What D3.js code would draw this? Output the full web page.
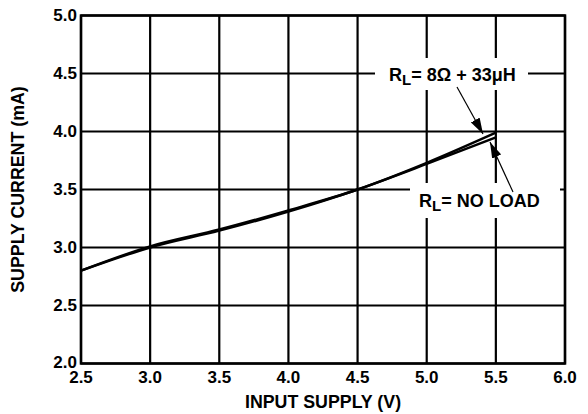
<!DOCTYPE html>
<html>
<head>
<meta charset="utf-8">
<script src="https://cdn.jsdelivr.net/npm/d3@7/dist/d3.min.js"></script>
<style>
  html, body { margin: 0; padding: 0; background: #fff; }
  svg { display: block; }
  text { font-family: "Liberation Sans", Arial, Helvetica, sans-serif; font-weight: bold; fill: #000; }
</style>
</head>
<body>
<svg id="chart" width="588" height="414"></svg>
<script>
// ---- data ----
const supplyV = [2.5, 3.0, 3.5, 4.0, 4.5, 5.0, 5.5];
const currentLoad = [2.80, 3.01, 3.155, 3.32, 3.50, 3.73, 3.99];
const currentNoLoad = [2.80, 3.00, 3.145, 3.31, 3.50, 3.72, 3.95];
const xTicks = [2.5, 3.0, 3.5, 4.0, 4.5, 5.0, 5.5, 6.0];
const yTicks = [2.0, 2.5, 3.0, 3.5, 4.0, 4.5, 5.0];
const xTitle = "INPUT SUPPLY (V)";
const yTitle = "SUPPLY CURRENT (mA)";

const svg = d3.select("#chart");
const L = 81, R = 565, T = 15.5, B = 363.5;
const x = d3.scaleLinear().domain([2.5, 6.0]).range([L, R]);
const y = d3.scaleLinear().domain([2.0, 5.0]).range([B, T]);

// grid
const g = svg.append("g");
g.selectAll(".vg").data(xTicks).join("line")
  .attr("x1", d => x(d)).attr("x2", d => x(d))
  .attr("y1", T).attr("y2", B)
  .attr("stroke", "#000").attr("stroke-width", 2.2);
g.selectAll(".hg").data(yTicks).join("line")
  .attr("y1", d => y(d)).attr("y2", d => y(d))
  .attr("x1", L).attr("x2", R)
  .attr("stroke", "#000").attr("stroke-width", 2.2);

// white boxes for annotations (knock out grid)
svg.append("rect").attr("x", 375).attr("y", 58).attr("width", 153).attr("height", 32).attr("fill", "#fff");
svg.append("rect").attr("x", 410).attr("y", 183).attr("width", 150).attr("height", 35).attr("fill", "#fff");

// frame
svg.append("rect").attr("x", L).attr("y", T).attr("width", R - L).attr("height", B - T)
  .attr("fill", "none").attr("stroke", "#000").attr("stroke-width", 2.5);

// curves
const line = d3.line().x((d, i) => x(supplyV[i])).y(d => y(d)).curve(d3.curveMonotoneX);
svg.append("path").datum(currentNoLoad).attr("d", line)
  .attr("fill", "none").attr("stroke", "#000").attr("stroke-width", 2.4);
svg.append("path").datum(currentLoad).attr("d", line)
  .attr("fill", "none").attr("stroke", "#000").attr("stroke-width", 2.4);

// axes labels
svg.append("g").selectAll("text").data(yTicks).join("text")
  .attr("x", L - 4).attr("y", d => y(d) - (d === 2.0 ? 1.5 : 0)).attr("dy", "0.34em")
  .attr("text-anchor", "end").attr("font-size", 17)
  .text(d => d.toFixed(1));
svg.append("g").selectAll("text").data(xTicks).join("text")
  .attr("x", d => x(d)).attr("y", 383)
  .attr("text-anchor", "middle").attr("font-size", 17)
  .text(d => d.toFixed(1));
svg.append("text").attr("x", (L + R) / 2).attr("y", 408)
  .attr("text-anchor", "middle").attr("font-size", 17.8).text(xTitle);
svg.append("text").attr("transform", `translate(24,${(T + B) / 2}) rotate(-90)`)
  .attr("text-anchor", "middle").attr("font-size", 17.8).text(yTitle);

// annotation labels
function rlLabel(xp, yp, rest) {
  const t = svg.append("text").attr("x", xp).attr("y", yp).attr("font-size", 18);
  t.append("tspan").text("R");
  t.append("tspan").attr("font-size", 15).attr("dy", 4).text("L");
  t.append("tspan").attr("dy", -4).text(rest);
}
rlLabel(389, 80.5, "= 8\u03A9 + 33\u03BCH");
rlLabel(419, 207, "= NO LOAD");

// arrows
const defs = svg.append("defs");
defs.append("marker").attr("id", "ah").attr("viewBox", "0 0 16 10")
  .attr("refX", 16).attr("refY", 5).attr("markerWidth", 16).attr("markerHeight", 10)
  .attr("markerUnits", "userSpaceOnUse").attr("orient", "auto")
  .append("path").attr("d", "M0,0 L16,5 L0,10 Z").attr("fill", "#000");
svg.append("line").attr("x1", 457).attr("y1", 87).attr("x2", 483).attr("y2", 134)
  .attr("stroke", "#000").attr("stroke-width", 1.2).attr("marker-end", "url(#ah)");
svg.append("line").attr("x1", 513).attr("y1", 192).attr("x2", 490).attr("y2", 142)
  .attr("stroke", "#000").attr("stroke-width", 1.2).attr("marker-end", "url(#ah)");
</script>
</body>
</html>
